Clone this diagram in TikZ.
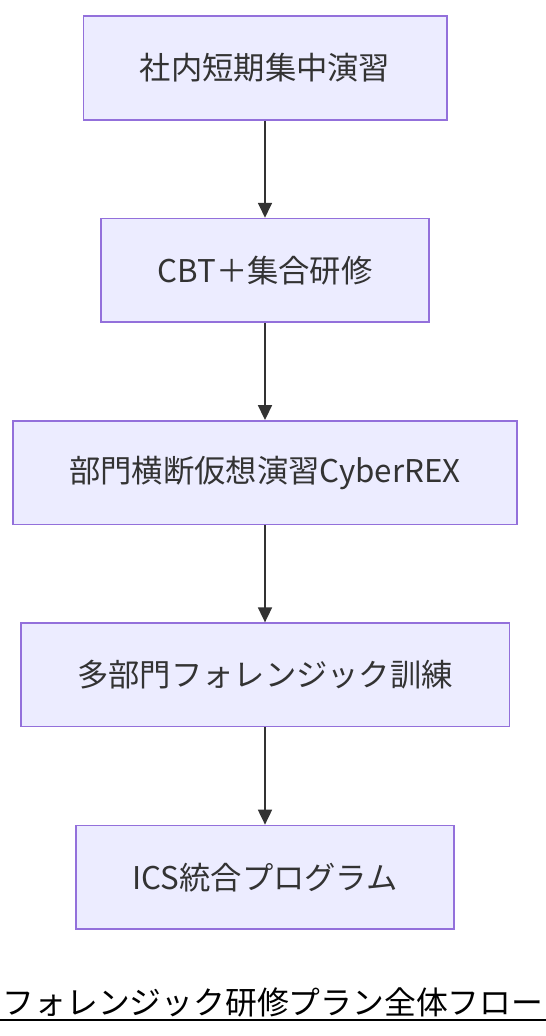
\documentclass[tikz,border=0pt]{standalone}
\usepackage{fontspec}
\setmainfont{Noto Sans CJK JP}
\usetikzlibrary{arrows.meta,positioning}
\definecolor{boxfill}{HTML}{ECECFF}
\definecolor{boxline}{HTML}{9370DB}
\definecolor{linkcol}{HTML}{333333}

\begin{document}
\begin{tikzpicture}[x=1pt, y=1pt, node distance=97.2pt,
    stepbox/.style={draw=boxline, fill=boxfill, line width=1.6pt, text=linkcol,
        minimum height=103.5pt, inner xsep=56.5pt, font=\fontsize{31.3}{36}\selectfont},
    link/.style={-{Triangle[length=15pt, width=14pt]}, draw=linkcol, line width=1.8pt}]
    \useasboundingbox (0, 0) rectangle (546, -1036);

    \node[stepbox] (intern) at (265, -68) {社内短期集中演習};
    \node[stepbox, below=of intern] (cbt) {CBT＋集合研修};
    \node[stepbox, below=of cbt] (cyberrex) {部門横断仮想演習CyberREX};
    \node[stepbox, below=of cyberrex] (forensic) {多部門フォレンジック訓練};
    \node[stepbox, below=of forensic] (ics) {ICS統合プログラム};

    \draw[link] (intern) -- (cbt);
    \draw[link] (cbt) -- (cyberrex);
    \draw[link] (cyberrex) -- (forensic);
    \draw[link] (forensic) -- (ics);

    % title
    \node[inner sep=0pt, font=\fontsize{31.8}{36}\selectfont] (title) at (273, -1002) {フォレンジック研修プラン全体フロー};
    \coordinate (ulleft) at (0, -1020);
    \coordinate (ulright) at (546, -1020);
    \draw[line width=2pt] (ulleft) -- (ulright);
\end{tikzpicture}
\end{document}
